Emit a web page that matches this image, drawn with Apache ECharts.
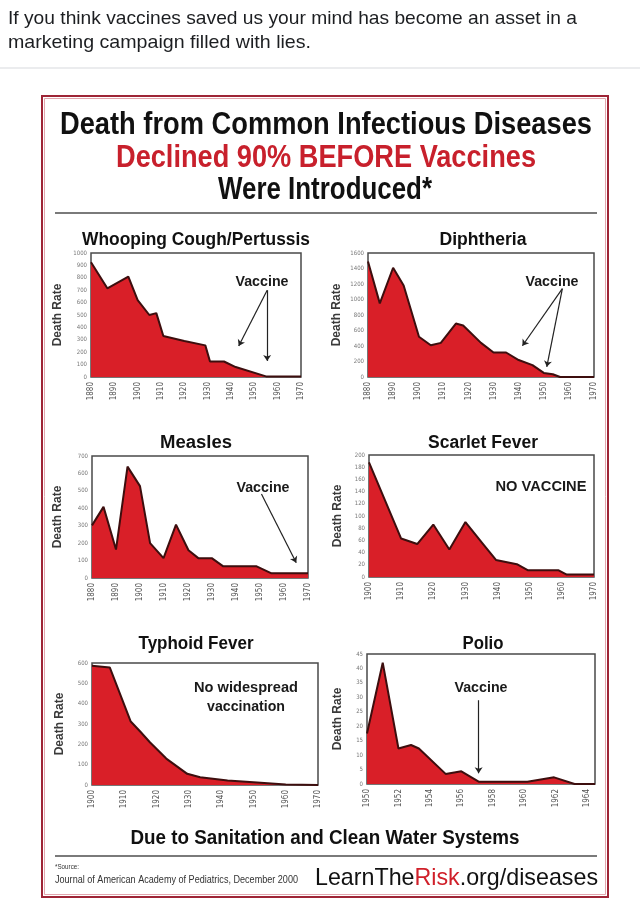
<!DOCTYPE html>
<html><head><meta charset="utf-8">
<script src="https://cdn.jsdelivr.net/npm/echarts@6/dist/echarts.min.js"></script>
<style>html,body{margin:0;padding:0;background:#fff}#c{width:640px;height:909px}</style>
</head><body><div id="c"></div>
<script>
// ---- data ----
const whoopingYears = [1880, 1887, 1896, 1900, 1905, 1908, 1911, 1920, 1929, 1931, 1937, 1942, 1955, 1970];
const whoopingRates = [925, 715, 810, 620, 500, 515, 330, 290, 255, 125, 125, 80, 5, 5];
const diphYears = [1880, 1884.7, 1890, 1894.2, 1900.3, 1905, 1909, 1915, 1917.9, 1925, 1930, 1935, 1940, 1945.5, 1950, 1953.6, 1956.5, 1970];
const diphRates = [1490, 950, 1410, 1180, 520, 410, 440, 690, 665, 440, 316, 316, 219, 153, 53, 35, 0, 0];
const measlesYears = [1880, 1884.8, 1890, 1894.8, 1900, 1904.2, 1909.8, 1915, 1920.2, 1924.3, 1929.9, 1934.7, 1948.6, 1954.8, 1970];
const measlesRates = [302, 408, 163, 639, 527, 200, 114, 306, 159, 114, 114, 67, 67, 27, 27];
const scarletYears = [1900, 1910, 1915, 1920, 1925, 1930, 1935.5, 1939.5, 1946, 1949.5, 1959, 1961.5, 1970];
const scarletRates = [188, 63, 54, 86, 45, 90, 54, 28, 21, 11, 11, 4, 4];
const typhoidYears = [1900, 1905.5, 1912, 1915, 1918, 1923, 1929.5, 1933.5, 1942, 1950, 1960, 1970];
const typhoidRates = [586, 578, 312, 262, 209, 130, 55, 38, 22, 13, 2, 0];
const polioYears = [1950, 1951, 1952, 1952.8, 1953.3, 1955, 1956, 1957.1, 1960.2, 1961.9, 1963.2, 1964.5];
const polioRates = [17.5, 42, 12.3, 13.5, 12.3, 3.5, 4.4, 0.8, 0.8, 2.3, 0, 0];

// axis ranges [xmin, xmax, xstep, ymax, ystep]
const whoopingAxis = [1880, 1970, 10, 1000, 100];
const diphAxis = [1880, 1970, 10, 1600, 200];
const measlesAxis = [1880, 1970, 10, 700, 100];
const scarletAxis = [1900, 1970, 10, 200, 20];
const typhoidAxis = [1900, 1970, 10, 600, 100];
const polioAxis = [1950, 1964.5, 2, 45, 5];

// vaccine arrows [[x0,y0],[x1,y1]]
const whoopingArrows = [[[1955.5, 700], [1943.3, 250]], [[1955.5, 700], [1955.5, 130]]];
const diphArrows = [[[1957.4, 1140], [1941.5, 403]], [[1957.4, 1140], [1951.2, 131]]];
const measlesArrows = [[[1950.6, 482], [1965.1, 88]]];
const polioArrows = [[[1957.1, 29], [1957.1, 3.7]]];

const titles = ['Whooping Cough/Pertussis', 'Diphtheria', 'Measles', 'Scarlet Fever', 'Typhoid Fever', 'Polio'];

// ---- layout ----
const SANS = '"Liberation Sans",Arial,sans-serif';
const COND = '"DejaVu Sans Condensed","Liberation Sans",sans-serif';
const grids = [
  {left: 91, top: 253, width: 210, height: 124},
  {left: 368, top: 253, width: 226, height: 124},
  {left: 92, top: 456, width: 216, height: 122},
  {left: 369, top: 455, width: 225, height: 122},
  {left: 92, top: 663, width: 226, height: 122},
  {left: 367, top: 654, width: 228, height: 130}
];
const nameGaps = [27, 25, 28, 25, 26, 23];
const panels = [
  [whoopingYears, whoopingRates, whoopingAxis, whoopingArrows],
  [diphYears, diphRates, diphAxis, diphArrows],
  [measlesYears, measlesRates, measlesAxis, measlesArrows],
  [scarletYears, scarletRates, scarletAxis, []],
  [typhoidYears, typhoidRates, typhoidAxis, []],
  [polioYears, polioRates, polioAxis, polioArrows]
];

const meas = document.createElement('canvas').getContext('2d');
function fitText(text, x, y, font, width, color, align, rich) {
  meas.font = font;
  const w = meas.measureText(text).width;
  const style = {x: 0, y: 0, font: font, fill: color, align: align || 'center', verticalAlign: 'middle'};
  if (rich) { style.text = rich.text; style.rich = rich.rich; } else { style.text = text; }
  return {type: 'text', x: x, y: y, scaleX: width / w, silent: true, style: style};
}

const option = {
  backgroundColor: '#fff',
  animation: false,
  grid: grids.map(g => Object.assign({show: true, backgroundColor: '#fff', borderColor: '#4a4a4a', borderWidth: 1.5, containLabel: false, outerBoundsMode: 'none'}, g)),
  xAxis: panels.map((p, i) => ({
    type: 'value', gridIndex: i, min: p[2][0], max: p[2][1], interval: p[2][2],
    axisLine: {show: false}, axisTick: {show: false}, splitLine: {show: false},
    axisLabel: {rotate: 90, fontSize: 8, color: '#555', margin: 5, fontFamily: COND,
      formatter: v => (Math.abs(v - Math.round(v)) < 1e-6 && (v - p[2][0]) % p[2][2] === 0) ? String(v) : ''}
  })),
  yAxis: panels.map((p, i) => ({
    type: 'value', gridIndex: i, min: 0, max: p[2][3], interval: p[2][4],
    name: 'Death Rate', nameLocation: 'middle', nameGap: nameGaps[i],
    nameTextStyle: {fontSize: 12, fontWeight: 'bold', color: '#3a3a3a', fontFamily: SANS},
    axisLine: {show: false}, axisTick: {show: false}, splitLine: {show: false},
    axisLabel: {fontSize: 6, color: '#777', margin: 4, fontFamily: COND, formatter: v => String(v)}
  })),
  series: panels.map((p, i) => ({
    type: 'line', xAxisIndex: i, yAxisIndex: i,
    data: p[0].map((y, k) => [y, p[1][k]]),
    symbol: 'none', smooth: false,
    lineStyle: {color: '#3d0e0e', width: 2},
    areaStyle: {color: '#d91f28', opacity: 1},
    markLine: p[3].length ? {
      silent: true, symbol: ['none', 'arrow'], symbolSize: 6,
      lineStyle: {color: '#222', width: 1.2, type: 'solid'},
      label: {show: false},
      data: p[3].map(a => [{coord: a[0]}, {coord: a[1]}])
    } : undefined
  })),
  graphic: [
    fitText('If you think vaccines saved us your mind has become an asset in a', 8, 19, '19px ' + SANS, 569, '#1c1e21', 'left'),
    fitText('marketing campaign filled with lies.', 8, 43, '19px ' + SANS, 303, '#1c1e21', 'left'),
    {type: 'line', shape: {x1: 0, y1: 68, x2: 640, y2: 68}, style: {stroke: '#e4e6e9', lineWidth: 1.5}},
    {type: 'rect', shape: {x: 42, y: 96, width: 566, height: 801}, style: {fill: 'none', stroke: '#9e2436', lineWidth: 2}},
    {type: 'rect', shape: {x: 44.5, y: 98.5, width: 561, height: 796}, style: {fill: 'none', stroke: '#e3a5ad', lineWidth: 1}},
    fitText('Death from Common Infectious Diseases', 326, 125, 'bold 31px ' + SANS, 532, '#111'),
    fitText('Declined 90% BEFORE Vaccines', 326, 158, 'bold 31px ' + SANS, 420, '#c8202c'),
    fitText('Were Introduced*', 325, 190, 'bold 31px ' + SANS, 214, '#111'),
    {type: 'line', shape: {x1: 55, y1: 213, x2: 597, y2: 213}, style: {stroke: '#7a7a7a', lineWidth: 2}},
    fitText(titles[0], 196, 240, 'bold 18px ' + SANS, 228, '#111'),
    fitText(titles[1], 483, 240, 'bold 18px ' + SANS, 87, '#111'),
    fitText(titles[2], 196, 443, 'bold 18px ' + SANS, 72, '#111'),
    fitText(titles[3], 483, 443, 'bold 18px ' + SANS, 110, '#111'),
    fitText(titles[4], 196, 644, 'bold 18px ' + SANS, 115, '#111'),
    fitText(titles[5], 483, 644, 'bold 18px ' + SANS, 41, '#111'),
    fitText('Vaccine', 262, 282, 'bold 15px ' + SANS, 53, '#1a1a1a'),
    fitText('Vaccine', 552, 282, 'bold 15px ' + SANS, 53, '#1a1a1a'),
    fitText('Vaccine', 263, 488, 'bold 15px ' + SANS, 53, '#1a1a1a'),
    fitText('NO VACCINE', 541, 487, 'bold 15px ' + SANS, 91, '#1a1a1a'),
    fitText('No widespread', 246, 688, 'bold 15px ' + SANS, 104, '#1a1a1a'),
    fitText('vaccination', 246, 707, 'bold 15px ' + SANS, 78, '#1a1a1a'),
    fitText('Vaccine', 481, 688, 'bold 15px ' + SANS, 53, '#1a1a1a'),
    fitText('Due to Sanitation and Clean Water Systems', 325, 838, 'bold 20px ' + SANS, 389, '#111'),
    {type: 'line', shape: {x1: 55, y1: 856, x2: 597, y2: 856}, style: {stroke: '#7a7a7a', lineWidth: 2}},
    fitText('*Source:', 55, 867, '8px ' + SANS, 24, '#333', 'left'),
    fitText('Journal of American Academy of Pediatrics, December 2000', 55, 880, '10px ' + SANS, 243, '#333', 'left'),
    fitText('LearnTheRisk.org/diseases', 598, 878, '24px ' + SANS, 283, '#111', 'right',
      {text: '{a|LearnThe}{b|Risk}{a|.org/diseases}', rich: {a: {font: '24px ' + SANS, fill: '#111'}, b: {font: '24px ' + SANS, fill: '#d0202a'}}})
  ]
};
const chart = echarts.init(document.getElementById('c'), null, {renderer: 'canvas'});
chart.setOption(option);
</script></body></html>
